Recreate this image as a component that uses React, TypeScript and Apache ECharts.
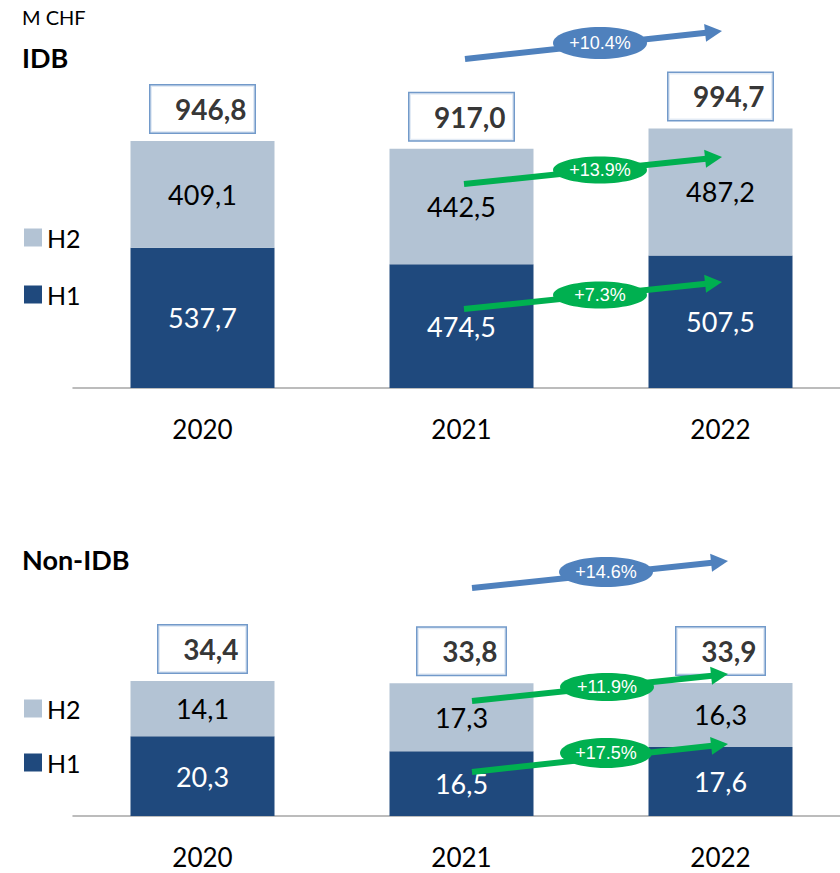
import React, { useEffect, useRef } from 'react';
import * as echarts from 'echarts';

// ---- data ----
const years = ['2020', '2021', '2022'];
const idbH1 = [537.7, 474.5, 507.5];
const idbH2 = [409.1, 442.5, 487.2];
const nonIdbH1 = [20.3, 16.5, 17.6];
const nonIdbH2 = [14.1, 17.3, 16.3];
// growth 2021 -> 2022: [total, H2, H1]
const idbGrowth = ['+10.4%', '+13.9%', '+7.3%'];
const nonIdbGrowth = ['+14.6%', '+11.9%', '+17.5%'];
const unitLabel = 'M CHF';
const panelTitles = ['IDB', 'Non-IDB'];

const C_H1 = '#1F497D';
const C_H2 = '#B3C3D4';
const C_BLUE = '#4F81BD';
const C_GREEN = '#00B050';
const AXIS_C = '#A6A6A6';
const FONT = 'Lato, "Open Sans", sans-serif';

const fmt = (v: number) => v.toFixed(1).replace('.', ',');
const sum = (a: number[], b: number[]) => a.map((v, i) => Math.round((v + b[i]) * 10) / 10);
const idbTotal = sum(idbH1, idbH2);
const nonIdbTotal = sum(nonIdbH1, nonIdbH2);

function arrow(
  x1: number, y1: number, x2: number, y2: number, color: string,
  label: string, cx: number, cy: number, rx: number, ry: number
) {
  const dx = x2 - x1, dy = y2 - y1;
  const len = Math.hypot(dx, dy);
  const ux = dx / len, uy = dy / len;
  const hl = 17, hw = 9;
  const bx = x2 - ux * hl, by = y2 - uy * hl;
  const px = -uy, py = ux;
  return [
    { type: 'line', z: 100, shape: { x1, y1, x2: bx + ux, y2: by + uy }, style: { stroke: color, lineWidth: 6 } },
    { type: 'polygon', z: 100, shape: { points: [[x2, y2], [bx + px * hw, by + py * hw], [bx - px * hw, by - py * hw]] }, style: { fill: color } },
    { type: 'ellipse', z: 101, shape: { cx, cy, rx, ry }, style: { fill: color } },
    {
      type: 'text', z: 102, x: cx, y: cy,
      style: {
        text: label, fill: '#fff', font: '18px "Liberation Sans", Arial, sans-serif',
        align: 'center', verticalAlign: 'middle', textAlign: 'center', textVerticalAlign: 'middle',
      },
    },
  ];
}

function mainX(gridIndex: number) {
  return {
    gridIndex, type: 'category', data: years,
    axisLine: { lineStyle: { color: AXIS_C, width: 1.5 } },
    axisTick: { length: 10, lineStyle: { color: AXIS_C, width: 1.5 } },
    axisLabel: { fontFamily: FONT, fontSize: 26, color: '#000', margin: 28 },
  };
}
function tickX(gridIndex: number) {
  return {
    gridIndex, type: 'category', data: years, position: 'bottom',
    axisLine: { show: false },
    axisTick: { alignWithLabel: true, length: 7, lineStyle: { color: AXIS_C, width: 1.5 } },
    axisLabel: { show: false },
  };
}

function barSeries(name: string, data: number[], xi: number, yi: number, stack: string, color: string, labelColor: string) {
  return {
    name, type: 'bar', stack, xAxisIndex: xi, yAxisIndex: yi, data, barWidth: 144,
    itemStyle: { color },
    label: {
      show: true, position: 'inside', color: labelColor, fontFamily: FONT, fontSize: 27,
      formatter: (p: any) => fmt(p.value),
    },
  };
}

function totalSeries(data: number[], xi: number, yi: number, boxW: number) {
  return {
    type: 'scatter', xAxisIndex: xi, yAxisIndex: yi, data, symbolSize: 1,
    itemStyle: { color: 'rgba(0,0,0,0)' }, silent: true, z: 5,
    label: {
      show: true, position: 'top', distance: 8,
      formatter: (p: any) => `{t|${fmt(p.value)}}`,
      backgroundColor: '#fff', borderColor: C_BLUE, borderWidth: 1.5, padding: [1, 8, 1, 8],
      rich: {
        t: { width: boxW, align: 'right', fontFamily: FONT, fontWeight: 'bold', fontSize: 28, color: '#000', lineHeight: 45 },
      },
    },
  };
}

export default function App() {
  const ref = useRef<HTMLDivElement>(null);
  useEffect(() => {
    if (!ref.current) return;
    const chart = echarts.init(ref.current, undefined, { renderer: 'svg' });
    const legendCommon = {
      data: ['H2', 'H1'], orient: 'vertical', left: 19, icon: 'rect',
      itemWidth: 18, itemHeight: 18, selectedMode: false,
      textStyle: { fontFamily: FONT, fontSize: 25, color: '#000', lineHeight: 25, padding: [0, 0, 0, 0] },
    };
    chart.setOption({
      animation: false,
      backgroundColor: '#fff',
      title: [
        { text: unitLabel, left: 22, top: 7, padding: 0, textStyle: { fontFamily: FONT, fontSize: 20, fontWeight: 'normal', color: '#000' } },
        { text: panelTitles[0], left: 22, top: 44, padding: 0, textStyle: { fontFamily: FONT, fontSize: 27, fontWeight: 'bold', color: '#000' } },
        { text: panelTitles[1], left: 22, top: 546, padding: 0, textStyle: { fontFamily: FONT, fontSize: 27, fontWeight: 'bold', color: '#000' } },
      ],
      legend: [
        { ...legendCommon, top: 220, itemGap: 32 },
        { ...legendCommon, top: 691, itemGap: 29 },
      ],
      grid: [
        { left: 73, width: 777, top: 127, height: 261, outerBoundsMode: 'none', containLabel: false },
        { left: 73, width: 777, top: 659, height: 157, outerBoundsMode: 'none', containLabel: false },
      ],
      xAxis: [mainX(0), tickX(0), mainX(1), tickX(1)],
      yAxis: [
        { gridIndex: 0, type: 'value', min: 0, max: 1000, show: false },
        { gridIndex: 1, type: 'value', min: 0, max: 40, show: false },
      ],
      series: [
        barSeries('H1', idbH1, 0, 0, 'idb', C_H1, '#fff'),
        barSeries('H2', idbH2, 0, 0, 'idb', C_H2, '#000'),
        totalSeries(idbTotal, 0, 0, 88),
        barSeries('H1', nonIdbH1, 2, 1, 'non', C_H1, '#fff'),
        barSeries('H2', nonIdbH2, 2, 1, 'non', C_H2, '#000'),
        totalSeries(nonIdbTotal, 2, 1, 72),
      ],
      graphic: [
        ...arrow(465, 59, 722, 31, C_BLUE, idbGrowth[0], 600, 43, 47, 16),
        ...arrow(464, 184, 722, 157, C_GREEN, idbGrowth[1], 600, 170, 47, 13.5),
        ...arrow(464, 309, 722, 282, C_GREEN, idbGrowth[2], 600, 295, 47, 13.5),
        ...arrow(472, 588, 728, 561, C_BLUE, nonIdbGrowth[0], 606, 572, 47, 15),
        ...arrow(472, 701, 728, 674, C_GREEN, nonIdbGrowth[1], 607, 687, 47, 14),
        ...arrow(472, 772, 728, 744, C_GREEN, nonIdbGrowth[2], 606, 753, 46, 15),
      ],
    });
    return () => chart.dispose();
  }, []);
  return <div ref={ref} style={{ position: 'absolute', left: 0, top: 0, width: 840, height: 873 }} />;
}
